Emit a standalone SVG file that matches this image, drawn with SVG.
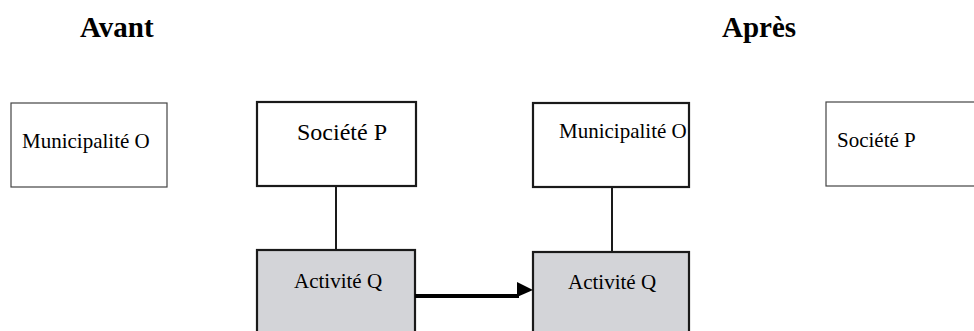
<svg xmlns="http://www.w3.org/2000/svg" width="974" height="331" viewBox="0 0 974 331">
<style>
text{font-family:"Liberation Serif","Times New Roman",serif;fill:#000}
.t{font-size:21px}
.b{font-size:24px}
.h{font-size:29px;font-weight:bold}
.thin{fill:#fff;stroke:#444;stroke-width:1.2}
.thick{fill:#fff;stroke:#1a1a1a;stroke-width:2.2}
.grey{fill:#d3d4d8;stroke:#1a1a1a;stroke-width:2.2}
.ln{stroke:#1a1a1a;stroke-width:2;fill:none}
</style>
<text class="h" x="80" y="37">Avant</text>
<text class="h" x="722" y="37">Après</text>
<g id="muniO1"><rect class="thin" x="11" y="103" width="156" height="84"/><text class="t" x="22" y="148">Municipalité O</text></g>
<g id="societeP1"><rect class="thick" x="257" y="102" width="159" height="84"/><text class="b" x="297" y="140">Société P</text></g>
<g id="muniO2"><rect class="thick" x="533" y="103" width="156" height="84"/><text class="t" x="559" y="138">Municipalité O</text></g>
<g id="societeP2"><rect class="thin" x="826" y="102" width="160" height="84"/><text class="t" x="837" y="147">Société P</text></g>
<g id="activiteQ1"><rect class="grey" x="257" y="250" width="158" height="100"/><text class="t" x="294" y="288">Activité Q</text></g>
<g id="activiteQ2"><rect class="grey" x="533" y="252" width="156" height="100"/><text class="t" x="568" y="289">Activité Q</text></g>
<g id="connectors">
<line class="ln" x1="336" y1="186" x2="336" y2="250"/>
<line class="ln" x1="612" y1="187" x2="612" y2="252"/>
<polyline points="415,296 519,296" fill="none" stroke="#000" stroke-width="4"/>
<polygon points="517,282 533,290 517,297" fill="#000"/>
</g>
</svg>
